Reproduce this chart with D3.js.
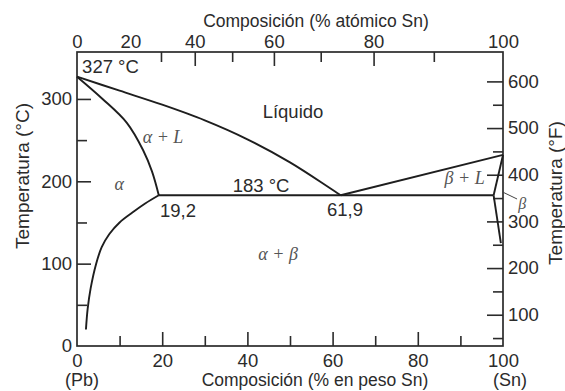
<!DOCTYPE html>
<html>
<head>
<meta charset="utf-8">
<script src="https://cdn.jsdelivr.net/npm/d3@7"></script>
<style>
body { margin: 0; background: #fff; }
text { font-family: "Liberation Sans", Arial, sans-serif; fill: #2b2b2b; }
.griego { font-family: "Liberation Serif", "Times New Roman", serif; font-style: italic; fill: #555; }
</style>
</head>
<body>
<svg id="diagrama" width="565" height="391"></svg>
<script>
// curvas del diagrama Pb-Sn: [% en peso Sn, temperatura en °C]
var liquidoAlfa = [[0,327],[10,310],[20,293],[30,274],[40,251],[50,223],[61.9,183]];
var solidoAlfa = [[0,327],[6,300],[11.7,271],[15.5,238],[17.6,212],[19.2,183]];
var solvusAlfa = [[2.1,20],[2.5,45],[3.2,70],[4.5,100],[5.8,120],[7.6,136],[10,150],[13,162],[16,173],[19.2,183]];
var liquidoBeta = [[61.9,183],[100,232]];
var solidoBeta = [[97.8,183],[100,232]];
var solvusBeta = [[97.8,183],[99.5,125]];
var eutectica = [[19.2,183],[97.8,183]];

// ejes
var ticksPesoMayor = [20,40,60,80];
var ticksPesoMenor = [10,30,50,70,90];
var etiquetasPeso = [0,20,40,60,80,100];
var ticksAtomicoMayor = [40,60,80];
var ticksAtomicoMenor = [30,50,70,90];
var etiquetasAtomico = [0,20,40,60,80,100];
var ticksCMayor = [100,200,300];
var ticksCMenor = [50,150,250];
var etiquetasC = [0,100,200,300];
var ticksFMayor = [100,200,300,400,500,600];
var ticksFMenor = [50,150,250,350,450,550];

// rótulos dentro del diagrama, en coordenadas de los datos
var rotulos = [
  {texto: "327 °C", w: 1.2, t: 332, ancla: "start", clase: ""},
  {texto: "Líquido", w: 50.7, t: 277, ancla: "middle", clase: ""},
  {texto: "183 °C", w: 43.2, t: 187, ancla: "middle", clase: ""},
  {texto: "19,2", w: 23.7, t: 157, ancla: "middle", clase: ""},
  {texto: "61,9", w: 62.9, t: 158, ancla: "middle", clase: ""},
  {texto: "α + L", w: 20.2, t: 247, ancla: "middle", clase: "griego"},
  {texto: "α", w: 9.9, t: 190, ancla: "middle", clase: "griego"},
  {texto: "α + β", w: 47.2, t: 104, ancla: "middle", clase: "griego"},
  {texto: "β + L", w: 91.0, t: 197, ancla: "middle", clase: "griego"},
  {texto: "β", w: 104.5, t: 166, ancla: "middle", clase: "griego"}
];

var svg = d3.select("#diagrama"),
    izq = 77, der = 503, arriba = 52, abajo = 346;

var x = d3.scaleLinear().domain([0, 100]).range([izq, der]);
var y = d3.scaleLinear().domain([0, 357]).range([abajo, arriba]);
var yF = d3.scaleLinear().domain([33, 663]).range([abajo, arriba]);

// % atómico -> % en peso (Pb 207,2; Sn 118,71)
function pesoDesdeAtomico(a) {
  return 100 * a * 118.71 / (a * 118.71 + (100 - a) * 207.2);
}
var valoresAt = d3.range(0, 101, 10);
var xAt = d3.scaleLinear().domain(valoresAt).range(valoresAt.map(function(a) { return x(pesoDesdeAtomico(a)); }));

function estiloEje(g, tam) {
  g.select(".domain").remove();
  g.selectAll("line").attr("stroke", "#2b2b2b").attr("stroke-width", 1.6);
  g.selectAll("text").attr("font-size", tam).attr("font-family", null).attr("fill", "#2b2b2b");
  g.attr("font-family", null);
}

// abajo
svg.append("g").attr("transform", "translate(0," + abajo + ")")
  .call(d3.axisBottom(x).tickValues(ticksPesoMayor).tickSize(-14).tickFormat("")).call(estiloEje, 18);
svg.append("g").attr("transform", "translate(0," + abajo + ")")
  .call(d3.axisBottom(x).tickValues(ticksPesoMenor).tickSize(-10).tickFormat("")).call(estiloEje, 18);
svg.append("g").attr("transform", "translate(0," + abajo + ")")
  .call(d3.axisBottom(x).tickValues(etiquetasPeso).tickSize(0).tickPadding(8)).call(estiloEje, "18.5px");

// arriba
svg.append("g").attr("transform", "translate(0," + arriba + ")")
  .call(d3.axisTop(xAt).tickValues(ticksAtomicoMayor).tickSize(-14).tickFormat("")).call(estiloEje, 18);
svg.append("g").attr("transform", "translate(0," + arriba + ")")
  .call(d3.axisTop(xAt).tickValues(ticksAtomicoMenor).tickSize(-10).tickFormat("")).call(estiloEje, 18);
svg.append("g").attr("transform", "translate(0," + arriba + ")")
  .call(d3.axisTop(xAt).tickValues(etiquetasAtomico).tickSize(0).tickPadding(4)).call(estiloEje, "18.5px");

// izquierda (°C)
svg.append("g").attr("transform", "translate(" + izq + ",0)")
  .call(d3.axisLeft(y).tickValues(ticksCMayor).tickSize(-14).tickFormat("")).call(estiloEje, 18);
svg.append("g").attr("transform", "translate(" + izq + ",0)")
  .call(d3.axisLeft(y).tickValues(ticksCMenor).tickSize(-10).tickFormat("")).call(estiloEje, 18);
svg.append("g").attr("transform", "translate(" + izq + ",0)")
  .call(d3.axisLeft(y).tickValues(etiquetasC).tickSize(0).tickPadding(5)).call(estiloEje, "18.5px");

// derecha (°F)
svg.append("g").attr("transform", "translate(" + der + ",0)")
  .call(d3.axisRight(yF).tickValues(ticksFMayor).tickSize(-16).tickFormat("")).call(estiloEje, 18);
svg.append("g").attr("transform", "translate(" + der + ",0)")
  .call(d3.axisRight(yF).tickValues(ticksFMenor).tickSize(-10).tickFormat("")).call(estiloEje, 18);
svg.append("g").attr("transform", "translate(" + der + ",0)")
  .call(d3.axisRight(yF).tickValues(ticksFMayor).tickSize(0).tickPadding(5)).call(estiloEje, "18.5px");

// marco
svg.append("rect")
  .attr("x", izq).attr("y", arriba)
  .attr("width", der - izq).attr("height", abajo - arriba)
  .attr("fill", "none").attr("stroke", "#2b2b2b").attr("stroke-width", 1.7);

// curvas
var linea = d3.line().x(function(d) { return x(d[0]); }).y(function(d) { return y(d[1]); });
var curva = d3.line().curve(d3.curveCatmullRom.alpha(0.5)).x(function(d) { return x(d[0]); }).y(function(d) { return y(d[1]); });

[liquidoAlfa, solidoAlfa, solvusAlfa].forEach(function(c) {
  svg.append("path").attr("d", curva(c)).attr("fill", "none").attr("stroke", "#1e1e1e").attr("stroke-width", 1.9);
});
[liquidoBeta, solidoBeta, solvusBeta, eutectica].forEach(function(c) {
  svg.append("path").attr("d", linea(c)).attr("fill", "none").attr("stroke", "#1e1e1e").attr("stroke-width", 1.9);
});

// línea guía hacia β
svg.append("path").attr("d", linea([[99.9, 187], [103.3, 178.5]]))
  .attr("stroke", "#444").attr("stroke-width", 1);

svg.selectAll(".rotulo")
  .data(rotulos)
  .enter().append("text")
    .attr("class", function(d) { return "rotulo " + d.clase; })
    .attr("x", function(d) { return x(d.w); })
    .attr("y", function(d) { return y(d.t); })
    .attr("text-anchor", function(d) { return d.ancla; })
    .attr("font-size", function(d) { return d.clase ? (d.texto == "β" && d.w > 100 ? "16px" : "18px") : "18.5px"; })
    .text(function(d) { return d.texto; });

// títulos
svg.append("text").attr("x", 316).attr("y", 27).attr("text-anchor", "middle")
  .attr("font-size", "17.5px").text("Composición (% atómico Sn)");
svg.append("text").attr("x", 315).attr("y", 386).attr("text-anchor", "middle")
  .attr("font-size", "17.5px").text("Composición (% en peso Sn)");
svg.append("text").attr("x", x(0) + 5).attr("y", 386).attr("text-anchor", "middle")
  .attr("font-size", "18px").text("(Pb)");
svg.append("text").attr("x", x(100) + 7).attr("y", 386).attr("text-anchor", "middle")
  .attr("font-size", "18px").text("(Sn)");
svg.append("text").attr("transform", "translate(29,176) rotate(-90)").attr("text-anchor", "middle")
  .attr("font-size", "19px").text("Temperatura  (°C)");
svg.append("text").attr("transform", "translate(562,193) rotate(-90)").attr("text-anchor", "middle")
  .attr("font-size", "19px").text("Temperatura  (°F)");
</script>
</body>
</html>
